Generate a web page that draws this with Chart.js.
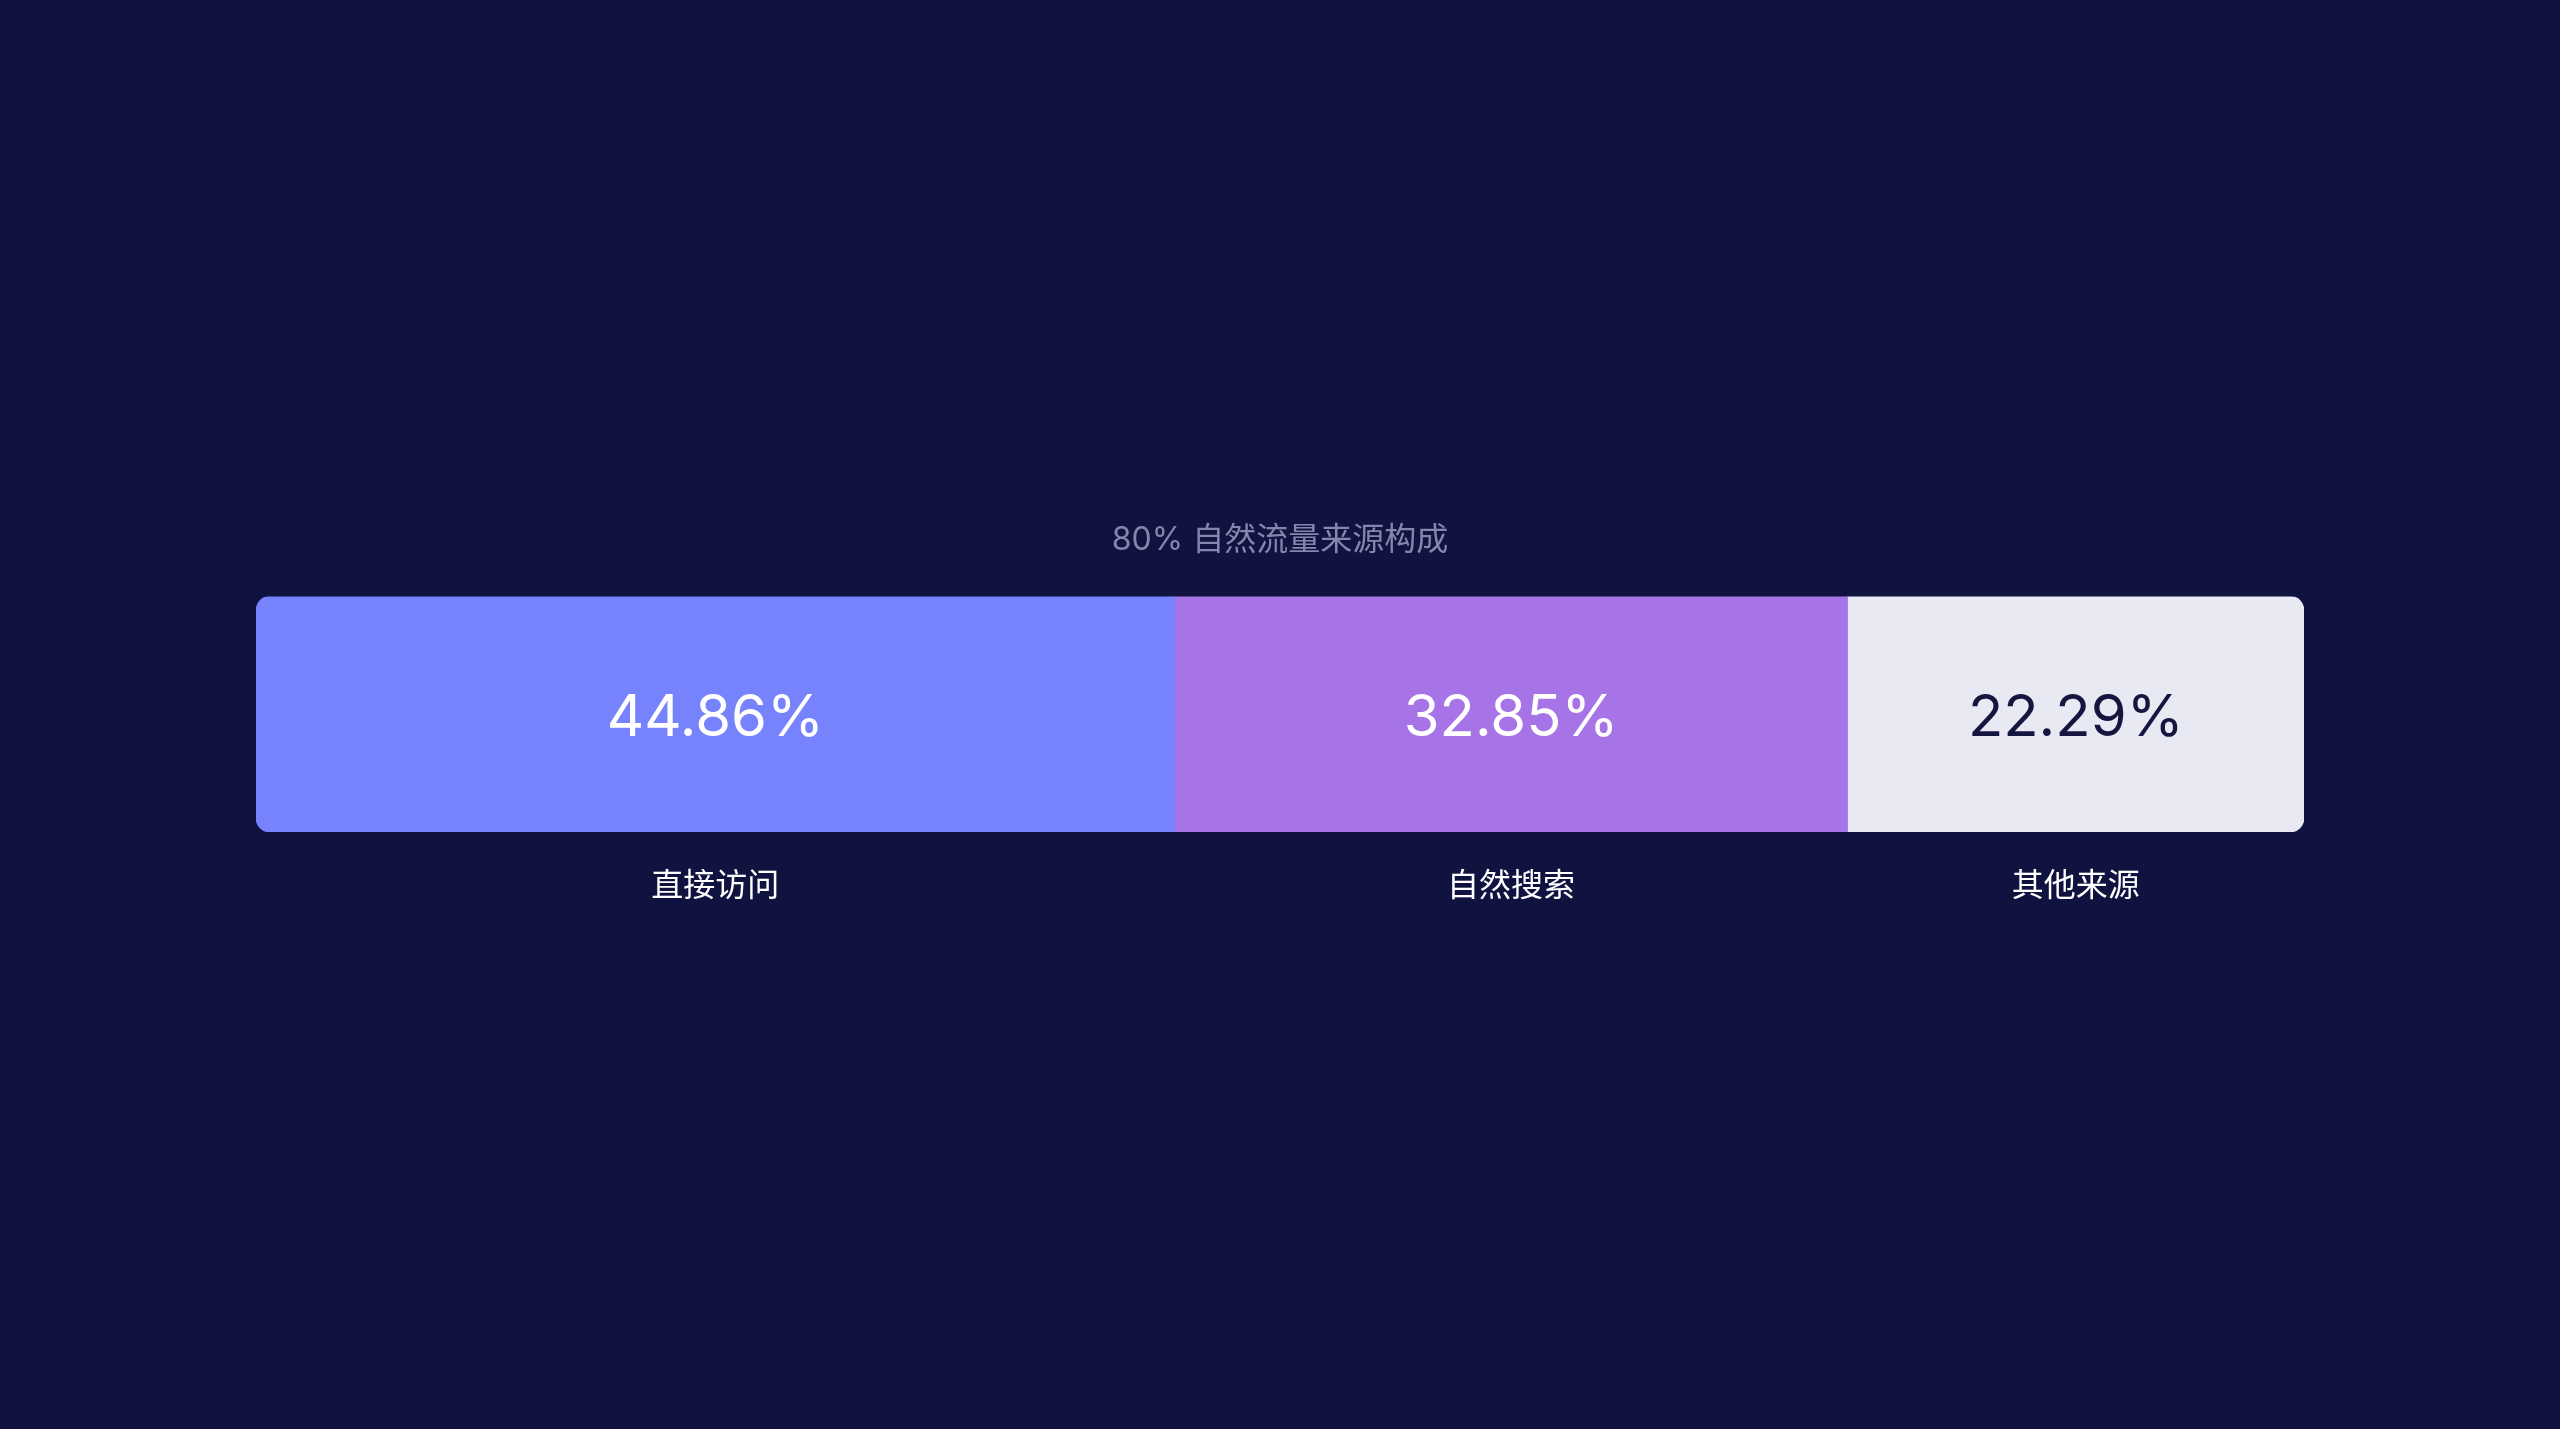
<!DOCTYPE html>
<html>
<head>
<meta charset="utf-8">
<script src="https://cdn.jsdelivr.net/npm/chart.js@4"></script>
<style>
  html, body { margin: 0; padding: 0; background: #10123f; }
  #wrap { width: 2560px; height: 1429px; }
</style>
</head>
<body>
<div id="wrap"><canvas id="grafica" width="2560" height="1429"></canvas></div>
<script>
const $grafica = document.querySelector("#grafica");

// datos
const titulo = "80% 自然流量来源构成";
const categorias = ["直接访问", "自然搜索", "其他来源"];
const valores = [44.86, 32.85, 22.29];
const colores = ["#7683fd", "#a674e6", "#e8e9f3"];
const coloresTexto = ["#ffffff", "#ffffff", "#15163f"];

const fuente = "Inter, 'Noto Sans CJK SC', sans-serif";
const radio = 14;

const datasets = categorias.map((cat, i) => ({
    label: cat,
    data: [valores[i]],
    backgroundColor: colores[i],
    borderWidth: 0,
    borderSkipped: false,
    borderRadius: i === 0 ? { topLeft: radio, bottomLeft: radio, topRight: 0, bottomRight: 0 }
        : i === categorias.length - 1 ? { topLeft: 0, bottomLeft: 0, topRight: radio, bottomRight: radio }
        : 0,
    categoryPercentage: 1,
    barPercentage: 1,
}));

// fondo + etiquetas de cada segmento
const etiquetasPlugin = {
    id: 'etiquetas',
    beforeDraw(chart) {
        const ctx = chart.ctx;
        ctx.save();
        ctx.fillStyle = '#10123f';
        ctx.fillRect(0, 0, chart.width, chart.height);
        ctx.restore();
    },
    afterDatasetsDraw(chart) {
        const ctx = chart.ctx;
        const area = chart.chartArea;
        ctx.save();
        ctx.textAlign = 'center';
        ctx.textBaseline = 'middle';
        chart.data.datasets.forEach((ds, i) => {
            const bar = chart.getDatasetMeta(i).data[0];
            const cx = (bar.x + bar.base) / 2;
            ctx.fillStyle = coloresTexto[i];
            ctx.font = "400 58px " + fuente;
            ctx.fillText(valores[i].toFixed(2) + "%", cx, bar.y + 4);
            ctx.fillStyle = '#ffffff';
            ctx.font = "400 32px " + fuente;
            ctx.fillText(categorias[i], cx, area.bottom + 54);
        });
        ctx.restore();
    }
};

new Chart($grafica, {
    type: 'bar',
    data: {
        labels: [""],
        datasets: datasets
    },
    options: {
        indexAxis: 'y',
        responsive: false,
        animation: false,
        layout: {
            padding: { left: 256, right: 256, top: 521, bottom: 597 }
        },
        scales: {
            x: { stacked: true, min: 0, max: 100, display: false },
            y: { stacked: true, display: false }
        },
        plugins: {
            legend: { display: false },
            tooltip: { enabled: false },
            title: {
                display: true,
                text: titulo,
                color: '#8386ae',
                font: { family: fuente, size: 32, weight: '400', lineHeight: 1.2 },
                padding: { top: 0, bottom: 37 }
            }
        }
    },
    plugins: [etiquetasPlugin]
});
</script>
</body>
</html>
